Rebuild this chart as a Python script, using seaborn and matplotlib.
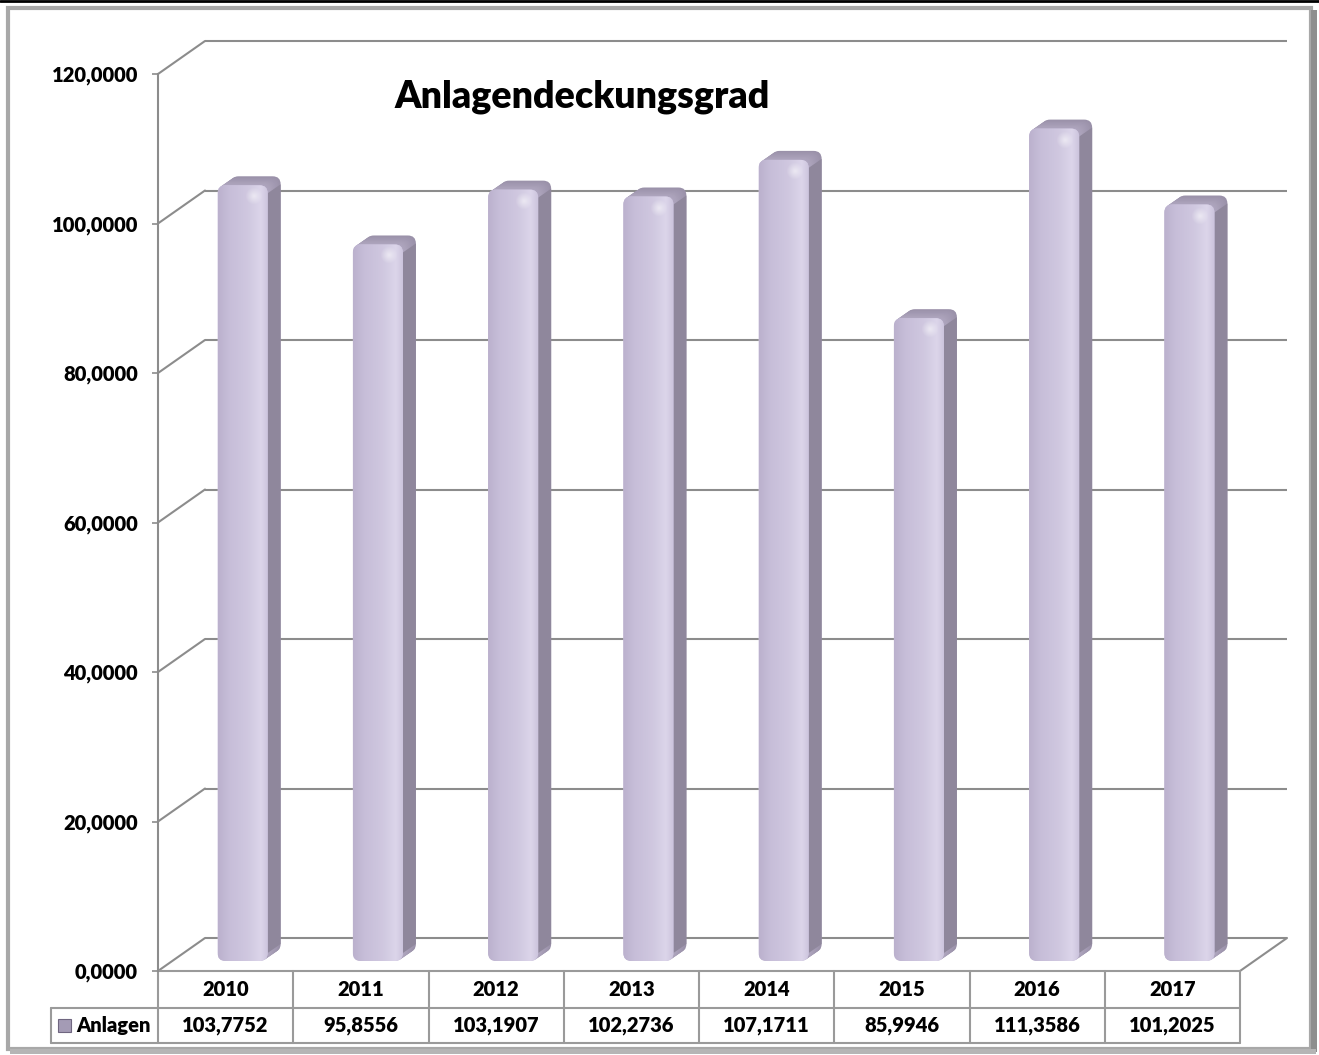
import numpy as np
import pandas as pd
import matplotlib
matplotlib.use("Agg")
import matplotlib.pyplot as plt
import seaborn as sns
from matplotlib.patches import Polygon, Rectangle, FancyBboxPatch
from matplotlib.lines import Line2D
from matplotlib.colors import LinearSegmentedColormap, to_rgb
from matplotlib.transforms import ScaledTranslation, blended_transform_factory

# ---------------- data ----------------
years = ["2010", "2011", "2012", "2013", "2014", "2015", "2016", "2017"]
values = [103.7752, 95.8556, 103.1907, 102.2736, 107.1711, 85.9946, 111.3586, 101.2025]
value_labels = ["103,7752", "95,8556", "103,1907", "102,2736",
                "107,1711", "85,9946", "111,3586", "101,2025"]
series_name = "Anlagen"
chart_title = "Anlagendeckungsgrad"
y_ticks = [0, 20, 40, 60, 80, 100, 120]
y_tick_labels = ["0,0000", "20,0000", "40,0000", "60,0000", "80,0000", "100,0000", "120,0000"]

# ---------------- setup ----------------
W, H, DPI = 1319, 1055, 100
sns.set_theme(style="white")
plt.rcParams["font.family"] = ["Lato", "DejaVu Sans"]
TXT_W = "heavy"
TXT_S = 14.5

fig = plt.figure(figsize=(W / DPI, H / DPI), dpi=DPI)
fig.patch.set_facecolor("white")

def fx(px):
    return px / W

def fy(py):
    return 1 - py / H

AX_L, AX_R, AX_T, AX_B = 158, 1240, 74, 971
ax = fig.add_axes([fx(AX_L), fy(AX_B), (AX_R - AX_L) / W, (AX_B - AX_T) / H])
ax.set_facecolor("none")

df = pd.DataFrame({"Jahr": years, "Wert": values})
sns.barplot(data=df, x="Jahr", y="Wert", ax=ax, color="#cbc2dc",
            width=0.37, saturation=1, zorder=4, linewidth=0)
ax.set_xlim(-0.5, len(years) - 0.5)
ax.set_ylim(0, 120)

ux = (AX_R - AX_L) / len(years)    # px per x unit
uy = (AX_B - AX_T) / 120.0          # px per y unit

GRID_C = "#8c8c8c"
DEPTH_X, DEPTH_Y = 47, 33
dxb, dyb = DEPTH_X / ux, DEPTH_Y / uy
x_lo, x_hi = -0.5, len(years) - 0.5

for v in y_ticks:
    ax.plot([x_lo + dxb, x_hi + dxb], [v + dyb, v + dyb], color=GRID_C, lw=1.5,
            clip_on=False, zorder=1, solid_capstyle="butt")
    ax.plot([x_lo, x_lo + dxb], [v, v + dyb], color=GRID_C, lw=1.5,
            clip_on=False, zorder=1)
ax.plot([x_hi, x_hi + dxb], [0, dyb], color=GRID_C, lw=1.5, clip_on=False, zorder=1)

# ---------------- 3-D rounded bars ----------------
front_tr = ax.transData + ScaledTranslation(17 / DPI, 10 / DPI, fig.dpi_scale_trans)
ddx, ddy = 13 / ux, 9 / uy
R_PX = 8
rx = R_PX / ux
asp = ux / uy
front_cmap = LinearSegmentedColormap.from_list(
    "front", [(0, "#bbb1cd"), (0.2, "#c6bdd8"), (0.6, "#d0c8e0"),
              (0.85, "#dcd5ea"), (1.0, "#cbc3dc")])
top_c = np.array(to_rgb("#b0a7c0"))
back_c = np.array(to_rgb("#9a91a9"))
side_c = "#8f879c"

def rounded(x0, y0, w, h, color, z):
    return FancyBboxPatch((x0, y0), w, h, boxstyle=f"round,pad=0,rounding_size={rx}",
                          mutation_aspect=asp, facecolor=color, edgecolor="none",
                          transform=front_tr, zorder=z, clip_on=False)

NSTEP = 12
for p in list(ax.patches):
    x0, w, h = p.get_x(), p.get_width(), p.get_height()
    x1 = x0 + w
    p.set_visible(False)
    for k in range(NSTEP, 0, -1):
        t = k / NSTEP
        col = back_c * t + top_c * (1 - t)
        ax.add_patch(rounded(x0 + ddx * t, ddy * t, w, h, col, 3))
    ax.add_patch(Polygon([(x1, R_PX / uy), (x1 + ddx, R_PX / uy + ddy),
                          (x1 + ddx, h - R_PX / uy + ddy), (x1, h - R_PX / uy)],
                         closed=True, facecolor=side_c, edgecolor="none",
                         transform=front_tr, zorder=3.5, clip_on=False))
    face = rounded(x0, 0, w, h, "#cbc2dc", 4)
    ax.add_patch(face)
    grad = np.linspace(0, 1, 64).reshape(1, -1)
    im = ax.imshow(grad, cmap=front_cmap, extent=[x0, x1, 0, h], aspect="auto",
                   transform=front_tr, zorder=5, interpolation="bilinear")
    im.set_clip_path(face)
    hl = np.zeros((32, 32, 4))
    yy, xx = np.mgrid[0:1:32j, 0:1:32j]
    d = np.sqrt(((xx - 0.5) / 0.5) ** 2 + ((yy - 0.5) / 0.5) ** 2)
    hl[..., :3] = 1.0
    hl[..., 3] = np.clip(1 - d, 0, 1) * 0.55
    hx = x1 - 14 / ux
    ax.imshow(hl, extent=[hx - 9 / ux, hx + 9 / ux, h - 20 / uy, h - 2 / uy],
              aspect="auto", transform=front_tr, zorder=6, interpolation="bilinear")

ax.set_xlim(-0.5, len(years) - 0.5)
ax.set_ylim(0, 120)

# ---------------- axes styling ----------------
for s in ["top", "right", "bottom"]:
    ax.spines[s].set_visible(False)
ax.spines["left"].set_color(GRID_C)
ax.spines["left"].set_linewidth(1.5)
ax.set_yticks(y_ticks)
ax.set_yticklabels(y_tick_labels, fontsize=TXT_S, fontweight=TXT_W, color="black")
ax.tick_params(axis="y", direction="out", length=4.5, width=1.2, color=GRID_C,
               pad=10, left=True)
ax.set_xticks([])
ax.set_xlabel("")
ax.set_ylabel("")
ax.grid(False)

# ---------------- data table ----------------
btr = blended_transform_factory(ax.transData, ax.transAxes)
axh = AX_B - AX_T
r1 = -37 / axh
r2 = -72 / axh
left_cell = x_lo - (AX_L - 51) / ux
TAB_C = "#9a9a9a"
ax.plot([x_lo, x_hi], [0, 0], color=TAB_C, lw=1.5, transform=btr, clip_on=False, zorder=2)
ax.plot([left_cell, x_hi], [r1, r1], color=TAB_C, lw=1.5, transform=btr, clip_on=False)
ax.plot([left_cell, x_hi], [r2, r2], color=TAB_C, lw=1.5, transform=btr, clip_on=False)
for k in range(len(years) + 1):
    ax.plot([x_lo + k, x_lo + k], [0, r2], color=TAB_C, lw=1.5, transform=btr, clip_on=False)
ax.plot([left_cell, left_cell], [r1, r2], color=TAB_C, lw=1.5, transform=btr, clip_on=False)

for i, (yr, lab) in enumerate(zip(years, value_labels)):
    ax.text(i, r1 / 2, yr, transform=btr, ha="center", va="center",
            fontsize=TXT_S, fontweight=TXT_W, color="black")
    ax.text(i, (r1 + r2) / 2, lab, transform=btr, ha="center", va="center",
            fontsize=TXT_S, fontweight=TXT_W, color="black")

key_x0 = left_cell + 7 / ux
ax.add_patch(Rectangle((key_x0, (r1 + r2) / 2 - 6.5 / axh), 13 / ux, 13 / axh,
                       transform=btr, facecolor="#a49bb5", edgecolor="#6f6680",
                       lw=0.8, clip_on=False))
ax.text(key_x0 + 18 / ux, (r1 + r2) / 2, series_name, transform=btr,
        ha="left", va="center", fontsize=TXT_S, fontweight=TXT_W, color="black")

# ---------------- title ----------------
fig.text(fx(582), fy(108), chart_title, ha="center", va="baseline",
         fontsize=27, fontweight=TXT_W, color="black")

# ---------------- outer frame ----------------
fig.add_artist(Rectangle((fx(8), fy(1049)), fx(1311) - fx(8), fy(8) - fy(1049),
                         transform=fig.transFigure, facecolor="none",
                         edgecolor="#a8a8a8", lw=3, zorder=0))
fig.add_artist(Rectangle((fx(1311), fy(1052)), fx(6), fy(10) - fy(1052),
                         transform=fig.transFigure, facecolor="#8e8e8e",
                         edgecolor="none", zorder=0))
fig.add_artist(Rectangle((fx(10), fy(1054)), fx(1306), fy(1049) - fy(1054),
                         transform=fig.transFigure, facecolor="#b5b5b5",
                         edgecolor="none", zorder=0))
fig.add_artist(Line2D([0, 1], [fy(1), fy(1)], transform=fig.transFigure,
                      color="black", lw=2))

fig.savefig("out.png", dpi=DPI, facecolor="white")
